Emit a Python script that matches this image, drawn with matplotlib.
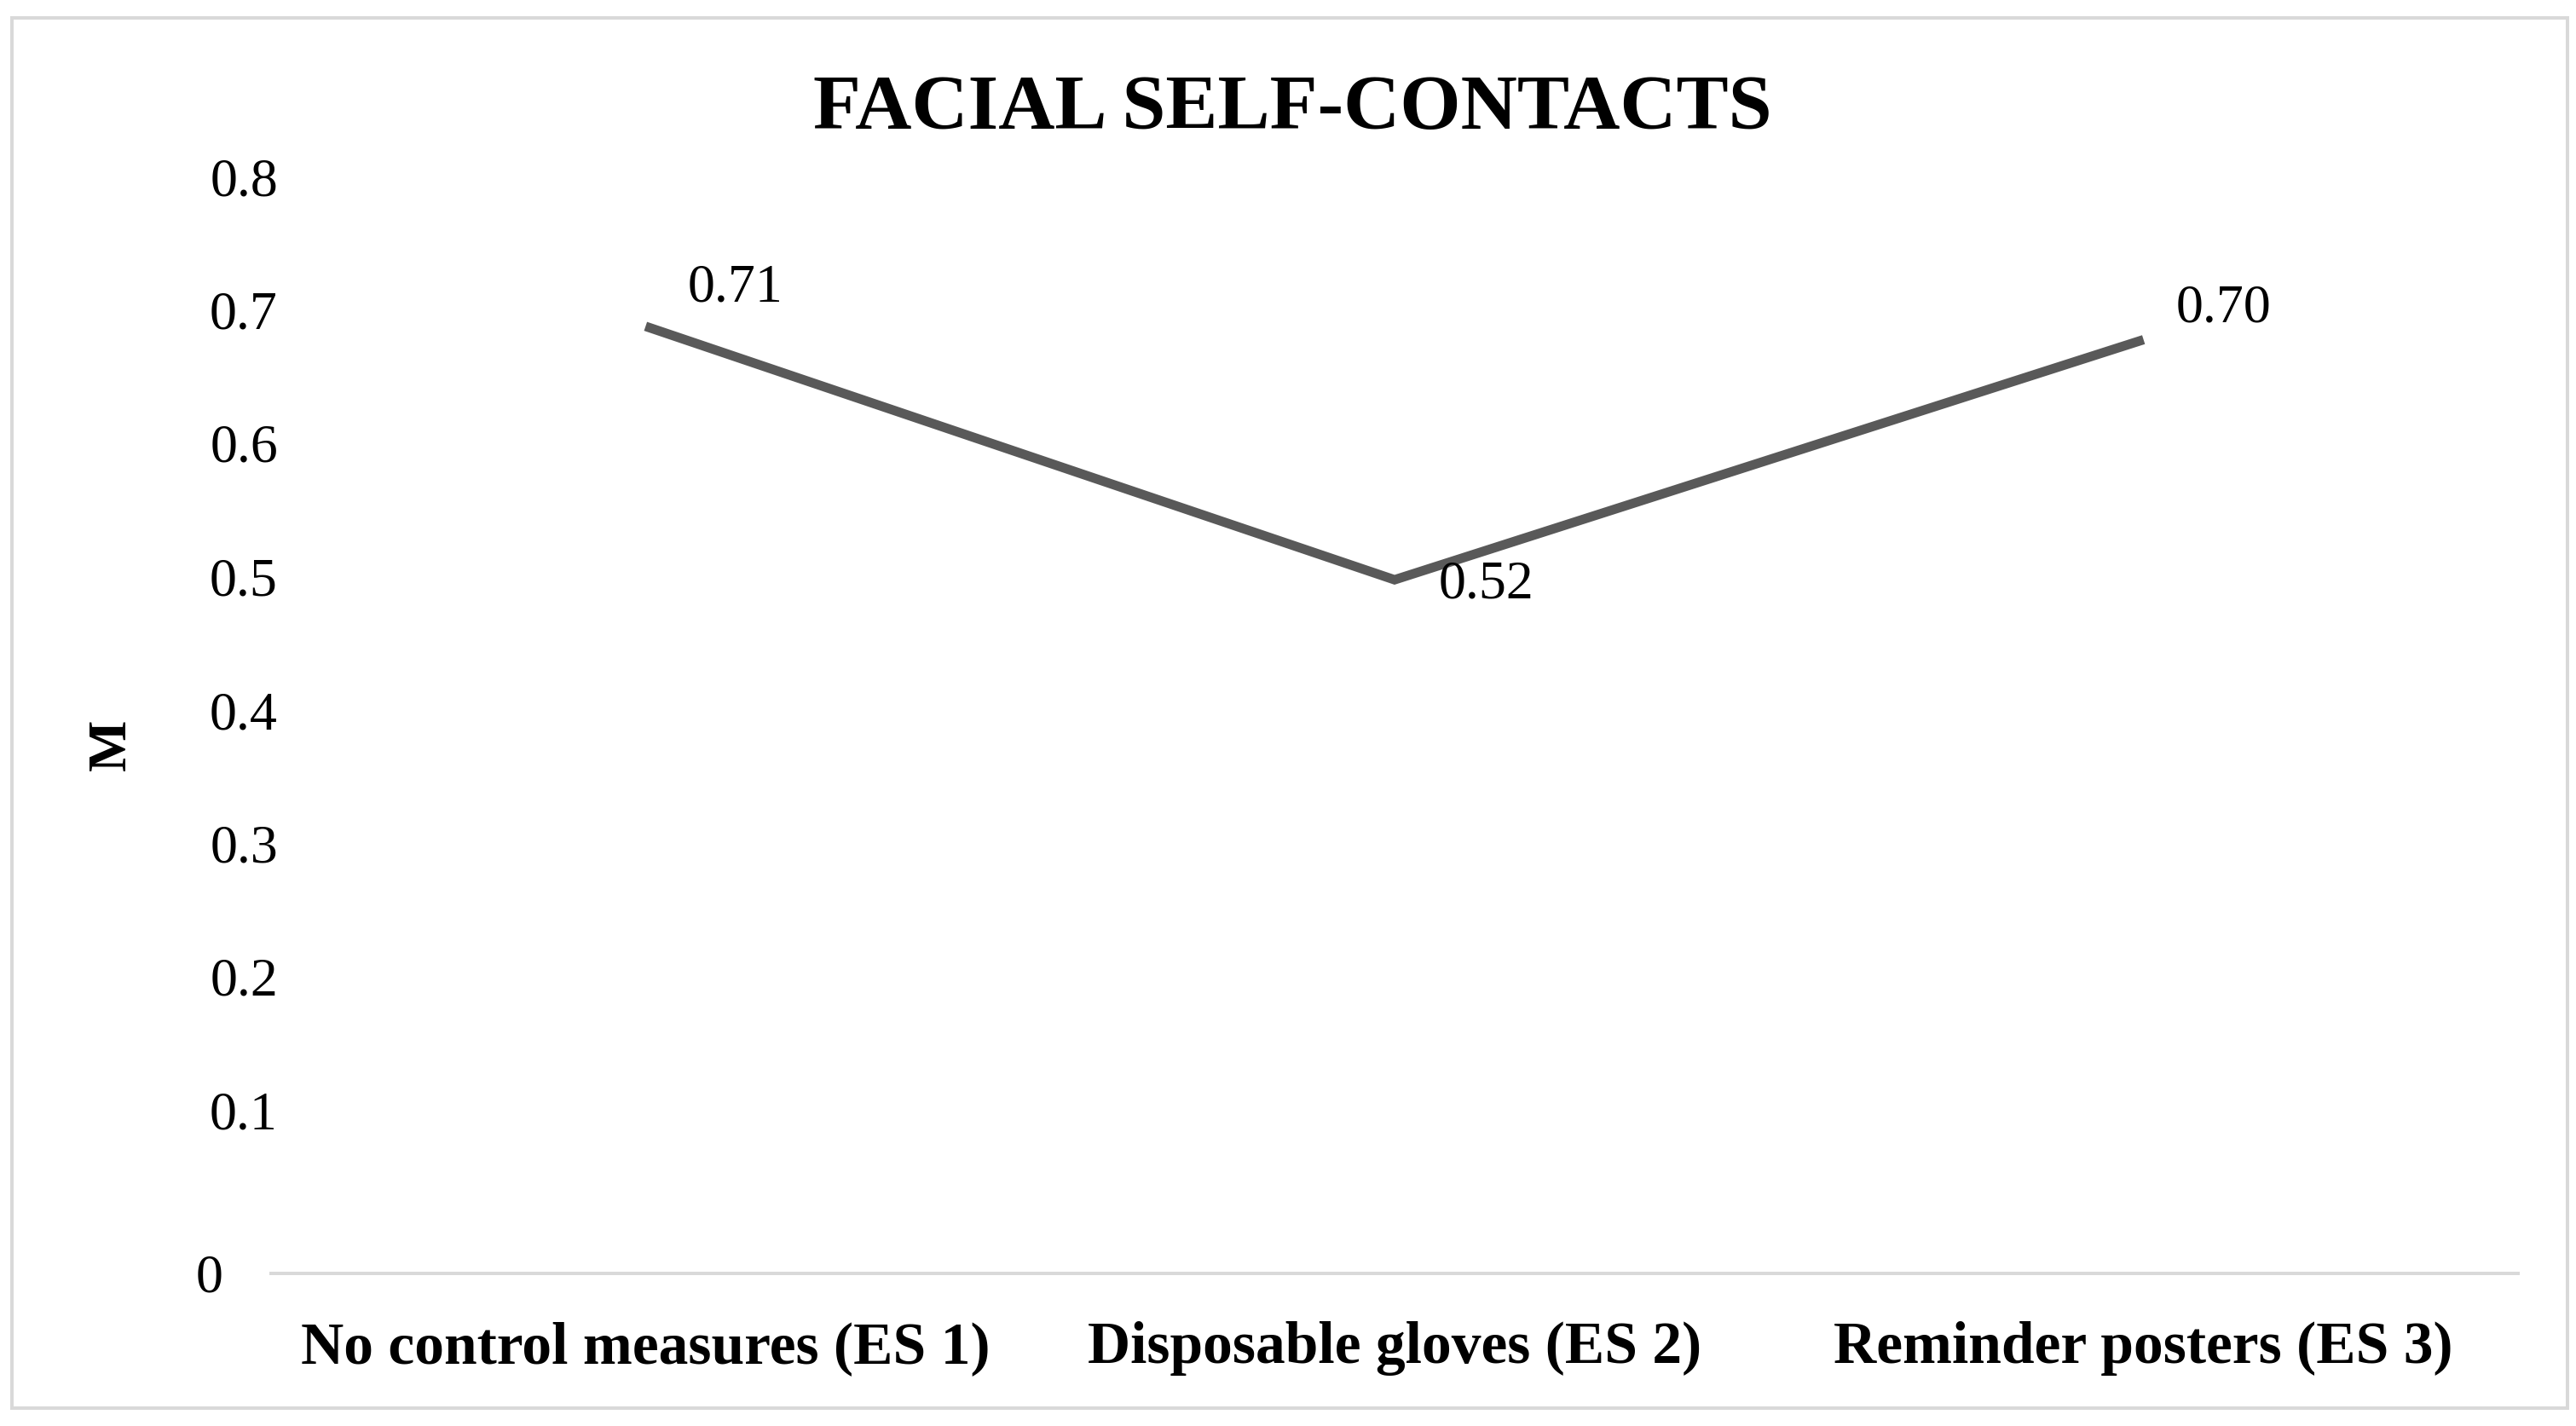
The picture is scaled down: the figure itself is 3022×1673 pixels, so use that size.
import matplotlib
matplotlib.use("Agg")
import matplotlib.pyplot as plt
import matplotlib.transforms as mtransforms
from matplotlib.patches import Rectangle

categorias = ["No control measures (ES 1)", "Disposable gloves (ES 2)", "Reminder posters (ES 3)"]
medias = [0.71, 0.52, 0.70]
rotulos = ["0.71", "0.52", "0.70"]
ticks_y = [0, 0.1, 0.2, 0.3, 0.4, 0.5, 0.6, 0.7, 0.8]
ticks_y_txt = ["0", "0.1", "0.2", "0.3", "0.4", "0.5", "0.6", "0.7", "0.8"]

plt.rcParams['font.family'] = ['Liberation Serif', 'DejaVu Serif']

DPI = 200
W, H = 3022, 1673
fig = plt.figure(figsize=(W / DPI, H / DPI), dpi=DPI)

def px(v):
    # pixels -> pontos
    return v * 72 / DPI

# moldura cinza em volta do gráfico
fig.patches.append(Rectangle((14 / W, 1 - 1652 / H), (3012 - 14) / W, (1652 - 21) / H,
                             transform=fig.transFigure, fill=False,
                             edgecolor='#d9d9d9', linewidth=px(4)))

ax = fig.add_axes([318 / W, 1 - 1494 / H, (2954 - 318) / W, (1494 - 242) / H])
x = list(range(len(categorias)))
ax.plot(x, medias, color='#595959', linewidth=px(11), solid_capstyle='butt',
        solid_joinstyle='miter', clip_on=False)

# rótulos de dados (deslocamento em pixels)
desloc = [(49, 44), (52, -6), (38, 36)]
for xi, yi, txt, (dx, dy) in zip(x, medias, rotulos, desloc):
    ax.annotate(txt, (xi, yi), xytext=(px(dx), px(dy)), textcoords='offset points',
                ha='left', va='center', fontsize=23)

ax.set_xlim(-0.5, len(categorias) - 0.5)
ax.set_ylim(0, 0.8)
ax.set_xticks(x)
ax.set_xticklabels(categorias, fontsize=25, fontweight='bold')
ax.set_yticks(ticks_y)
ax.set_yticklabels(ticks_y_txt, fontsize=23)
ax.tick_params(axis='both', length=0)
ax.tick_params(axis='x', pad=px(56))
ax.tick_params(axis='y', pad=0)

# os números do eixo y ficam um pouco acima das posições reais
for lab, t in zip(ax.get_yticklabels(), ticks_y):
    if t == 0:
        off = mtransforms.ScaledTranslation(-56 / DPI, 0, fig.dpi_scale_trans)
    else:
        off = mtransforms.ScaledTranslation(8 / DPI, 35 / DPI, fig.dpi_scale_trans)
    lab.set_transform(lab.get_transform() + off)

for s in ['top', 'right', 'left']:
    ax.spines[s].set_visible(False)
ax.spines['bottom'].set_color('#d9d9d9')
ax.spines['bottom'].set_linewidth(px(4))

fig.text(1516 / W, 1 - 129 / H, "FACIAL SELF-CONTACTS", ha='center', va='center',
         fontsize=33, fontweight='bold')
fig.text(132 / W, 1 - 874 / H, "M", rotation=90, ha='center', va='center',
         fontsize=23, fontweight='bold')

fig.savefig('out.png', dpi=DPI)
